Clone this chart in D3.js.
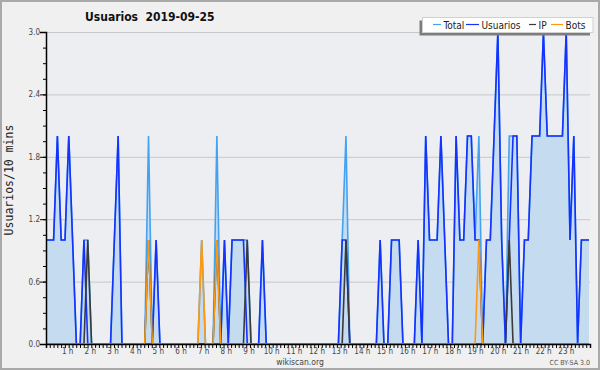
<!DOCTYPE html>
<html>
<head>
<meta charset="utf-8">
<script src="https://cdn.jsdelivr.net/npm/d3@7"></script>
<style>
  body { margin: 0; background: #fff; }
  svg { display: block; }
</style>
</head>
<body>
<div id="chart"></div>
<script>
// values per 10-minute bin, 00:00 .. 23:50 (144 bins)
let total = [
  1,1,1,2,1,1,2,1,0,0,1,1,
  0,0,0,0,0,0,1,2,0,0,0,0,
  0,0,0,2,0,1,0,0,0,0,0,0,
  0,0,0,0,0,1,0,0,0,2,0,1,
  0,1,1,1,1,1,0,0,0,1,0,0,
  0,0,0,0,0,0,0,0,0,0,0,0,
  0,0,0,0,0,0,1,2,0,0,0,0,
  0,0,0,0,1,0,0,1,1,1,0,0,
  0,0,1,0,2,1,1,1,2,1,0,0,
  2,1,1,2,2,1,2,0,1,1,2,3,
  1,0,2,2,2,0,1,1,2,2,2,3,
  2,2,2,2,2,3,1,2,0,1,1,1
];
let usuarios = [
  1,1,1,2,1,1,2,1,0,0,1,0,
  0,0,0,0,0,0,1,2,0,0,0,0,
  0,0,0,0,0,1,0,0,0,0,0,0,
  0,0,0,0,0,0,0,0,0,0,0,1,
  0,1,1,1,1,0,0,0,0,1,0,0,
  0,0,0,0,0,0,0,0,0,0,0,0,
  0,0,0,0,0,0,1,1,0,0,0,0,
  0,0,0,0,1,0,0,1,1,1,0,0,
  0,0,1,0,2,1,1,1,2,1,0,0,
  2,1,1,2,2,1,1,0,1,1,2,3,
  1,0,1,2,2,0,1,1,2,2,2,3,
  2,2,2,2,2,3,1,2,0,1,1,1
];
let ip = [
  0,0,0,0,0,0,0,0,0,0,0,1,
  0,0,0,0,0,0,0,0,0,0,0,0,
  0,0,0,1,0,0,0,0,0,0,0,0,
  0,0,0,0,0,0,0,0,0,1,0,0,
  0,0,0,0,0,1,0,0,0,0,0,0,
  0,0,0,0,0,0,0,0,0,0,0,0,
  0,0,0,0,0,0,0,1,0,0,0,0,
  0,0,0,0,0,0,0,0,0,0,0,0,
  0,0,0,0,0,0,0,0,0,0,0,0,
  0,0,0,0,0,0,0,0,0,0,0,0,
  0,0,1,0,0,0,0,0,0,0,0,0,
  0,0,0,0,0,0,0,0,0,0,0,0
];
let bots = [
  0,0,0,0,0,0,0,0,0,0,0,0,
  0,0,0,0,0,0,0,0,0,0,0,0,
  0,0,0,1,0,0,0,0,0,0,0,0,
  0,0,0,0,0,1,0,0,0,1,0,0,
  0,0,0,0,0,0,0,0,0,0,0,0,
  0,0,0,0,0,0,0,0,0,0,0,0,
  0,0,0,0,0,0,0,0,0,0,0,0,
  0,0,0,0,0,0,0,0,0,0,0,0,
  0,0,0,0,0,0,0,0,0,0,0,0,
  0,0,0,0,0,0,1,0,0,0,0,0,
  0,0,0,0,0,0,0,0,0,0,0,0,
  0,0,0,0,0,0,0,0,0,0,0,0
];
let yTicks = [0, 0.6, 1.2, 1.8, 2.4, 3.0];
let hourTicks = [1,2,3,4,5,6,7,8,9,10,11,12,13,14,15,16,17,18,19,20,21,22,23];
let seriesNames = ["Total", "Usuarios", "IP", "Bots"];

let width = 600,
    height = 370;
let plot = {left: 46, right: 590, top: 32, bottom: 344};
let font = "'DejaVu Sans Condensed', 'DejaVu Sans', sans-serif";

let svg = d3.select("#chart")
    .append("svg")
    .attr("width", width)
    .attr("height", height);

// frame
svg.append("rect")
    .attr("x", 1).attr("y", 1)
    .attr("width", width - 2).attr("height", height - 2)
    .attr("fill", "#f0f0f0")
    .attr("stroke", "#a9a9a9")
    .attr("stroke-width", 2);

svg.append("rect")
    .attr("x", plot.left).attr("y", plot.top)
    .attr("width", plot.right - plot.left).attr("height", plot.bottom - plot.top)
    .attr("fill", "#eceef1");

let x = d3.scaleLinear().domain([0, total.length - 1]).range([plot.left, 589]);
let xHour = d3.scaleLinear().domain([0, 24]).range([plot.left, plot.right]);
let y = d3.scaleLinear().domain([0, 3]).range([plot.bottom, plot.top]);

// horizontal grid
svg.append("g")
    .selectAll("line")
    .data(yTicks.slice(1))
    .enter()
    .append("line")
    .attr("x1", plot.left).attr("x2", plot.right)
    .attr("y1", d => y(d) + 0.5).attr("y2", d => y(d) + 0.5)
    .attr("stroke", "#c8c8c8")
    .attr("stroke-width", 1);

// area under total
let area = d3.area()
    .x((d, i) => x(i))
    .y0(y(0))
    .y1(d => y(d));

svg.append("path")
    .datum(total)
    .attr("d", area)
    .attr("fill", "#c5dcf0");

let line = d3.line()
    .x((d, i) => x(i))
    .y(d => y(d));

let colors = d3.scaleOrdinal()
    .domain(seriesNames)
    .range(["#44a2f0", "#1431ff", "#3a3a3a", "#ff9a10"]);

let seriesData = [total, usuarios, ip, bots];
seriesData.forEach(function(values, k) {
    svg.append("path")
        .datum(values)
        .attr("d", line)
        .attr("fill", "none")
        .attr("stroke", colors(seriesNames[k]))
        .attr("stroke-width", 1.6)
        .attr("stroke-linejoin", "miter");
});

// y axis: major and minor ticks
let yAxis = svg.append("g")
    .attr("transform", `translate(${plot.left}, 0)`)
    .call(d3.axisLeft(y).tickValues(yTicks).tickSize(6).tickFormat(d3.format(".1f")));
yAxis.selectAll("text")
    .attr("x", -6)
    .attr("dy", "0.32em")
    .style("font-family", font)
    .style("font-size", "8px")
    .attr("fill", "#444");

svg.append("g")
    .attr("transform", `translate(${plot.left}, 0)`)
    .call(d3.axisLeft(y).tickValues(d3.range(0, 3.001, 0.15)).tickSize(3).tickFormat(""))
    .select(".domain").remove();

// x axis: one tick per 10 minutes
let xAxis = svg.append("g")
    .attr("transform", `translate(0, ${plot.bottom})`)
    .call(d3.axisBottom(xHour).tickValues(d3.range(0, 24.001, 1 / 6)).tickSize(4).tickFormat(""));

svg.selectAll(".domain")
    .attr("stroke", "#000")
    .attr("stroke-width", 1.5);
svg.selectAll(".tick line")
    .attr("stroke", "#000");

svg.append("g")
    .selectAll("text")
    .data(hourTicks)
    .enter()
    .append("text")
    .attr("x", d => xHour(d) - 1)
    .attr("y", 353.5)
    .attr("text-anchor", "middle")
    .style("font-family", font)
    .style("font-size", "8px")
    .attr("fill", "#444")
    .text(d => d + " h");

// titles
svg.append("text")
    .attr("x", 85)
    .attr("y", 21)
    .style("font-family", font)
    .style("font-size", "12px")
    .style("font-weight", "bold")
    .attr("fill", "#111")
    .attr("xml:space", "preserve")
    .text("Usuarios  2019-09-25");

svg.append("text")
    .attr("transform", "translate(13, 180) rotate(-90)")
    .attr("text-anchor", "middle")
    .style("font-family", "'DejaVu Sans Mono', monospace")
    .style("font-size", "11.5px")
    .attr("fill", "#222")
    .text("Usuarios/10 mins");

svg.append("text")
    .attr("x", 300)
    .attr("y", 365)
    .attr("text-anchor", "middle")
    .style("font-family", font)
    .style("font-size", "8.5px")
    .attr("fill", "#444")
    .text("wikiscan.org");

svg.append("text")
    .attr("x", 590)
    .attr("y", 365)
    .attr("text-anchor", "end")
    .style("font-family", font)
    .style("font-size", "7px")
    .attr("fill", "#555")
    .text("CC BY-SA 3.0");

// legend
let legend = svg.append("g");
legend.append("rect")
    .attr("x", 419.5).attr("y", 20.5)
    .attr("width", 170.5).attr("height", 15)
    .attr("fill", "#7d7d7d");
legend.append("rect")
    .attr("x", 422.5).attr("y", 17.5)
    .attr("width", 170.5).attr("height", 15)
    .attr("fill", "#fff")
    .attr("stroke", "#d0d0d0")
    .attr("stroke-width", 1);

let legendX = [433, 466, 529, 551];
let legendLen = [8, 13, 7, 12];
seriesNames.forEach(function(name, k) {
    legend.append("line")
        .attr("x1", legendX[k]).attr("x2", legendX[k] + legendLen[k])
        .attr("y1", 24.5).attr("y2", 24.5)
        .attr("stroke", colors(name))
        .attr("stroke-width", 1.2);
    legend.append("text")
        .attr("x", legendX[k] + legendLen[k] + 2.5)
        .attr("y", 28.5)
        .style("font-family", font)
        .style("font-size", "10px")
        .attr("fill", "#222")
        .text(name);
});
</script>
</body>
</html>
